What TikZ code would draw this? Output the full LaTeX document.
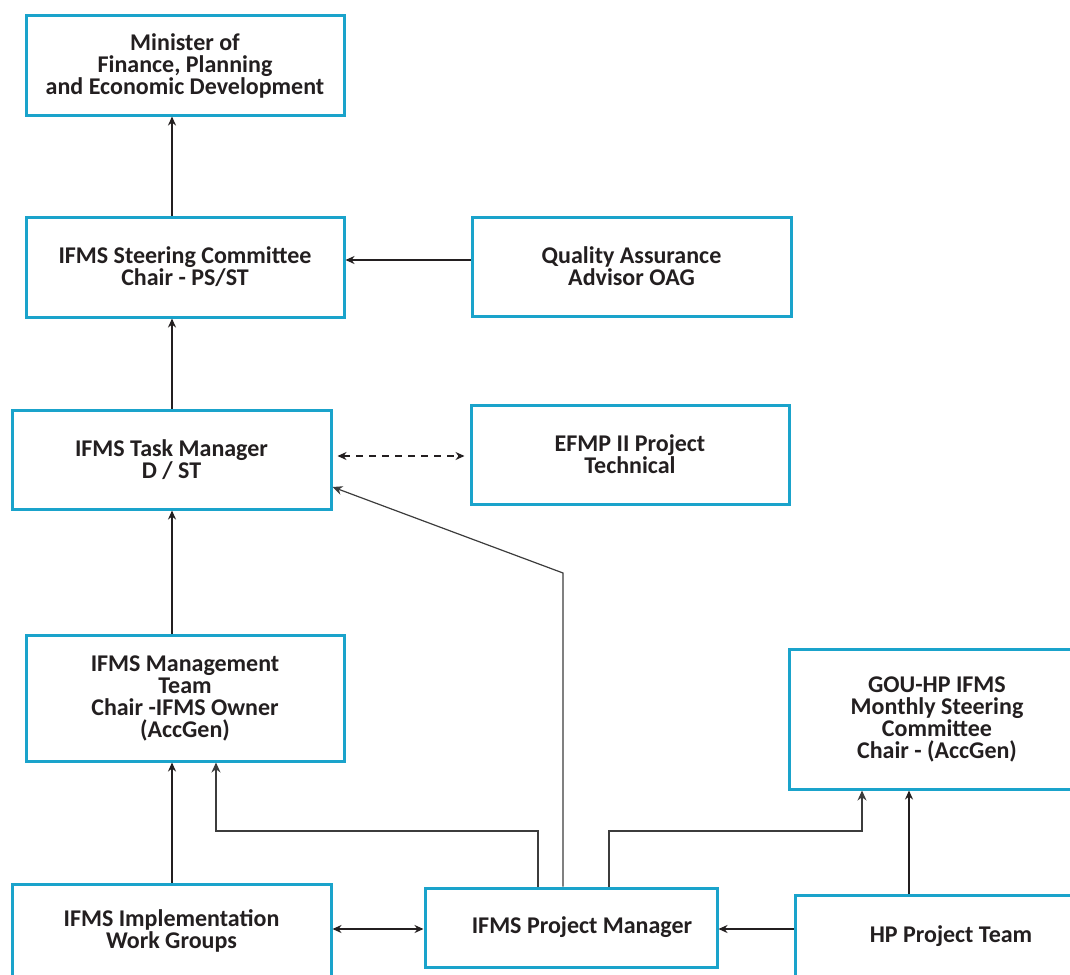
\documentclass[tikz,border=0pt]{standalone}
\usepackage{fontspec}
\setmainfont{Carlito}
\usetikzlibrary{arrows.meta}
\definecolor{boxcyan}{RGB}{26,163,203}
\definecolor{ink}{RGB}{35,31,32}
\definecolor{thinline}{RGB}{60,60,60}
\begin{document}
\begin{tikzpicture}[x=1pt,y=-1pt,
  orgbox/.style={draw=boxcyan,line width=3pt,fill=white,align=center,
    font=\fontsize{24}{22}\selectfont\bfseries,text=ink,inner sep=0pt},
  mainlink/.style={draw=ink,line width=1.8pt,-{Stealth[length=9pt,width=8pt]}},
  bothlink/.style={draw=ink,line width=1.8pt,{Stealth[length=9pt,width=8pt]}-{Stealth[length=9pt,width=8pt]}},
  dashlink/.style={draw=ink,line width=1.3pt,dash pattern=on 7pt off 6pt,{Stealth[length=9pt,width=8pt]}-{Stealth[length=9pt,width=8pt]}},
  thinlink/.style={draw=thinline,line width=1.2pt,-{Stealth[length=10pt,width=9pt]}}]
\useasboundingbox (0,0) rectangle (1070,974);

% boxes
\node[orgbox,minimum width=318pt,minimum height=99pt] (min) at (185,65.5)
  {Minister of\\Finance, Planning\\and Economic Development};
\node[orgbox,minimum width=318pt,minimum height=100pt] (steer) at (185,267)
  {IFMS Steering Committee\\Chair - PS/ST};
\node[orgbox,minimum width=319pt,minimum height=99pt] (qa) at (631.5,266.5)
  {Quality Assurance\\Advisor OAG};
\node[orgbox,minimum width=319pt,minimum height=99pt] (task) at (171.5,459.5)
  {IFMS Task Manager\\D / ST};
\node[orgbox,minimum width=318pt,minimum height=99pt] (efmp) at (630,454.5)
  {EFMP II Project\\Technical};
\node[orgbox,minimum width=318pt,minimum height=126pt] (mgmt) at (185,698)
  {IFMS Management\\Team\\Chair -IFMS Owner\\(AccGen)};
\node[orgbox,minimum width=296pt,minimum height=140pt] (gou) at (937,719)
  {GOU-HP IFMS\\Monthly Steering\\Committee\\Chair - (AccGen)};
\node[orgbox,minimum width=319pt,minimum height=94pt] (impl) at (171.5,931)
  {IFMS Implementation\\Work Groups};
\node[orgbox,minimum width=292pt,minimum height=79pt] (pm) at (571,927.5)
  {\hspace*{22pt}IFMS Project Manager};
\node[orgbox,minimum width=312pt,minimum height=82pt] (hp) at (951,936)
  {HP Project Team};

% reference columns and rows for the connectors
\coordinate (colA) at (172,0);
\coordinate (colB) at (216,0);
\coordinate (colC) at (538,0);
\coordinate (colD) at (563,0);
\coordinate (colE) at (609,0);
\coordinate (colF) at (862,0);
\coordinate (colG) at (909,0);
\coordinate (rowQ) at (0,260);
\coordinate (rowT) at (0,456);
\coordinate (rowP) at (0,929);
\coordinate (rowK) at (0,831);
\coordinate (bend) at (563,573);
\coordinate (taskin) at (0,487);

% main reporting line
\draw[mainlink] (steer.north -| colA) -- (min.south -| colA);
\draw[mainlink] (qa.west |- rowQ) -- (steer.east |- rowQ);
\draw[mainlink] (task.north -| colA) -- (steer.south -| colA);
\draw[dashlink] ([xshift=5pt]task.east |- rowT) -- ([xshift=-5pt]efmp.west |- rowT);
\draw[mainlink] (mgmt.north -| colA) -- (task.south -| colA);
\draw[mainlink] (impl.north -| colA) -- (mgmt.south -| colA);
\draw[bothlink] (impl.east |- rowP) -- (pm.west |- rowP);
\draw[mainlink] (hp.west |- rowP) -- (pm.east |- rowP);
\draw[mainlink] (hp.north -| colG) -- (gou.south -| colG);

% project manager links
\draw[thinlink] (pm.north -| colC) -- (colC |- rowK) -- (colB |- rowK) -- (mgmt.south -| colB);
\draw[thinlink] (pm.north -| colD) -- (bend) -- (task.east |- taskin);
\draw[thinlink] (pm.north -| colE) -- (colE |- rowK) -- (colF |- rowK) -- (gou.south -| colF);
\end{tikzpicture}
\end{document}
